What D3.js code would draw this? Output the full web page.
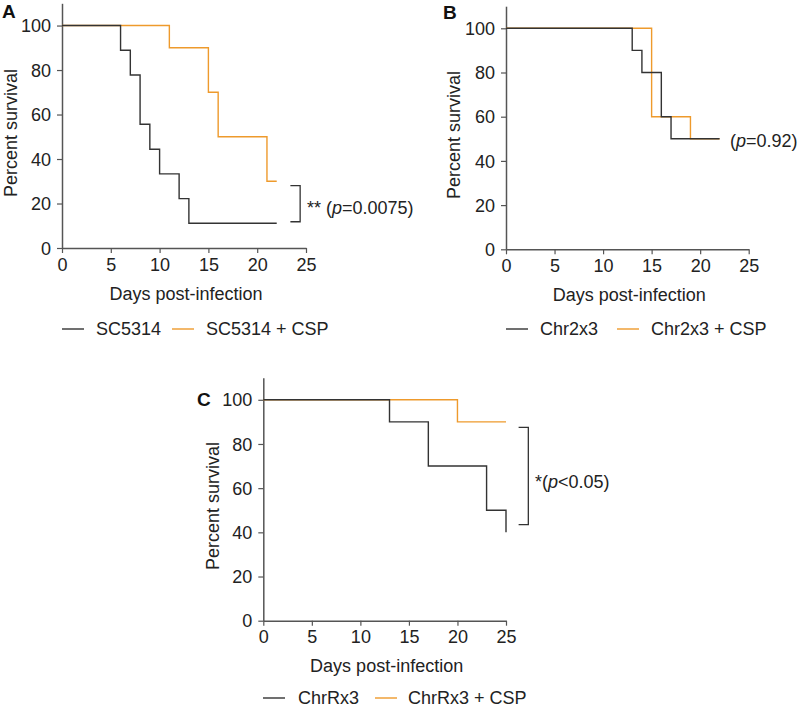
<!DOCTYPE html>
<html>
<head>
<meta charset="utf-8">
<script src="https://cdn.jsdelivr.net/npm/d3@7"></script>
<style>
  body { margin: 0; background: #fff; }
  svg { display: block; font-family: Arial, "Liberation Sans", Helvetica, sans-serif; }
</style>
</head>
<body>
<svg id="chart" width="800" height="707"></svg>
<script>
// ---- Data ----
const xTicks = [0, 5, 10, 15, 20, 25];
const yTicks = [0, 20, 40, 60, 80, 100];

// Panel A
const aBlackDays = [0, 6, 7, 8, 9, 10, 12, 13, 22];
const aBlackSurv = [100, 88.9, 77.8, 55.6, 44.4, 33.3, 22.2, 11.1, 11.1];
const aOrangeDays = [0, 11, 15, 16, 21, 22];
const aOrangeSurv = [100, 90, 70, 50, 30, 30];

// Panel B
const bBlackDays = [0, 13, 14, 16, 17, 22];
const bBlackSurv = [100, 90, 80, 60, 50, 50];
const bOrangeDays = [0, 15, 19, 22];
const bOrangeSurv = [100, 60, 50, 50];

// Panel C
const cBlackDays = [0, 13, 17, 23, 25, 25];
const cBlackSurv = [100, 90, 70, 50, 40, 40];
const cOrangeDays = [0, 20, 25];
const cOrangeSurv = [100, 90, 90];

const seriesNamesA = ["SC5314", "SC5314 + CSP"];
const seriesNamesB = ["Chr2x3", "Chr2x3 + CSP"];
const seriesNamesC = ["ChrRx3", "ChrRx3 + CSP"];

const BLACK = "#333333";
const ORANGE = "#EE9A2C";
const AXIS = "#555555";
const FS = 18;

const svg = d3.select("#chart");

function zip(days, surv) { return days.map((d, i) => ({ d, s: surv[i] })); }

function drawPanel(cfg) {
  const g = svg.append("g");
  const x = d3.scaleLinear().domain([0, 25]).range([cfg.x0, cfg.x1]);
  const y = d3.scaleLinear().domain([0, 110]).range([cfg.y0, cfg.y1]);

  // axes
  const xAxis = g.append("g").attr("transform", `translate(0,${cfg.y0})`)
    .call(d3.axisBottom(x).tickValues(xTicks).tickSize(5).tickPadding(5).tickSizeOuter(0));
  const yAxis = g.append("g").attr("transform", `translate(${cfg.x0},0)`)
    .call(d3.axisLeft(y).tickValues(yTicks).tickSize(5).tickPadding(6).tickSizeOuter(0));
  [xAxis, yAxis].forEach(ax => {
    ax.select(".domain").attr("stroke", AXIS).attr("stroke-width", 1.5);
    ax.selectAll(".tick line").attr("stroke", AXIS).attr("stroke-width", 1.2);
    ax.selectAll(".tick text").attr("fill", "#222").attr("font-size", FS).attr("font-family", "Arial, 'Liberation Sans', sans-serif");
  });
  yAxis.selectAll(".tick text").attr("dy", "0.34em");

  // curves (orange first, black on top)
  const line = d3.line().x(p => x(p.d)).y(p => y(p.s)).curve(d3.curveStepAfter);
  g.append("path").datum(zip(cfg.oDays, cfg.oSurv)).attr("d", line)
    .attr("fill", "none").attr("stroke", ORANGE).attr("stroke-width", 1.4);
  g.append("path").datum(zip(cfg.bDays, cfg.bSurv)).attr("d", line)
    .attr("fill", "none").attr("stroke", BLACK).attr("stroke-width", 1.4);

  // axis titles
  g.append("text").attr("x", (cfg.x0 + cfg.x1) / 2 + 2).attr("y", cfg.xLabelY)
    .attr("text-anchor", "middle").attr("font-size", FS).attr("fill", "#222")
    .text("Days post-infection");
  g.append("text").attr("transform", `translate(${cfg.yLabelX},${cfg.yLabelCY}) rotate(-90)`)
    .attr("text-anchor", "middle").attr("font-size", FS).attr("fill", "#222")
    .text("Percent survival");

  // panel label
  g.append("text").attr("x", cfg.labX).attr("y", cfg.labY)
    .attr("font-size", 19).attr("font-weight", "bold").attr("fill", "#111").text(cfg.label);

  // bracket
  if (cfg.bracket) {
    const b = cfg.bracket;
    const bx = x(b.xd), tx = x(b.xd - 1);
    g.append("path")
      .attr("d", `M${tx},${y(b.top)}H${bx}V${y(b.bot)}H${tx}`)
      .attr("fill", "none").attr("stroke", "#333").attr("stroke-width", 1.3);
  }

  // p-value text
  const t = g.append("text").attr("x", cfg.pX).attr("y", cfg.pY)
    .attr("font-size", FS).attr("fill", "#222");
  t.append("tspan").text(cfg.pPre);
  t.append("tspan").attr("font-style", "italic").text("p");
  t.append("tspan").text(cfg.pPost);

  // legend
  const ly = cfg.legY;
  const names = cfg.names;
  g.append("line").attr("x1", cfg.leg[0]).attr("x2", cfg.leg[0] + 22).attr("y1", ly).attr("y2", ly)
    .attr("stroke", BLACK).attr("stroke-width", 1.4);
  g.append("text").attr("x", cfg.leg[1]).attr("y", ly + 6).attr("font-size", FS).attr("fill", "#222").text(names[0]);
  g.append("line").attr("x1", cfg.leg[2]).attr("x2", cfg.leg[2] + 22).attr("y1", ly).attr("y2", ly)
    .attr("stroke", ORANGE).attr("stroke-width", 1.4);
  g.append("text").attr("x", cfg.leg[3]).attr("y", ly + 6).attr("font-size", FS).attr("fill", "#222").text(names[1]);
}

drawPanel({
  label: "A", labX: 2, labY: 18,
  x0: 62, x1: 306, y0: 248, y1: 3.3,
  bDays: aBlackDays, bSurv: aBlackSurv, oDays: aOrangeDays, oSurv: aOrangeSurv,
  xLabelY: 300, yLabelX: 17, yLabelCY: 133,
  bracket: { xd: 24.4, top: 28, bot: 11.8 },
  pX: 307, pY: 214, pPre: "** (", pPost: "=0.0075)",
  names: seriesNamesA, legY: 329, leg: [62, 96, 172, 206]
});

drawPanel({
  label: "B", labX: 443, labY: 19,
  x0: 506, x1: 748.7, y0: 249.3, y1: 6.2,
  bDays: bBlackDays, bSurv: bBlackSurv, oDays: bOrangeDays, oSurv: bOrangeSurv,
  xLabelY: 301, yLabelX: 460, yLabelCY: 135,
  bracket: null,
  pX: 730, pY: 147, pPre: "(", pPost: "=0.92)",
  names: seriesNamesB, legY: 329, leg: [506, 540, 617, 651]
});

drawPanel({
  label: "C", labX: 197, labY: 406,
  x0: 263.3, x1: 506, y0: 620.7, y1: 377.7,
  bDays: cBlackDays, bSurv: cBlackSurv, oDays: cOrangeDays, oSurv: cOrangeSurv,
  xLabelY: 672, yLabelX: 219, yLabelCY: 506,
  bracket: { xd: 27.3, top: 87.5, bot: 43.5 },
  pX: 535, pY: 488, pPre: "*(", pPost: "<0.05)",
  names: seriesNamesC, legY: 698, leg: [263, 298, 375, 408]
});
</script>
</body>
</html>
